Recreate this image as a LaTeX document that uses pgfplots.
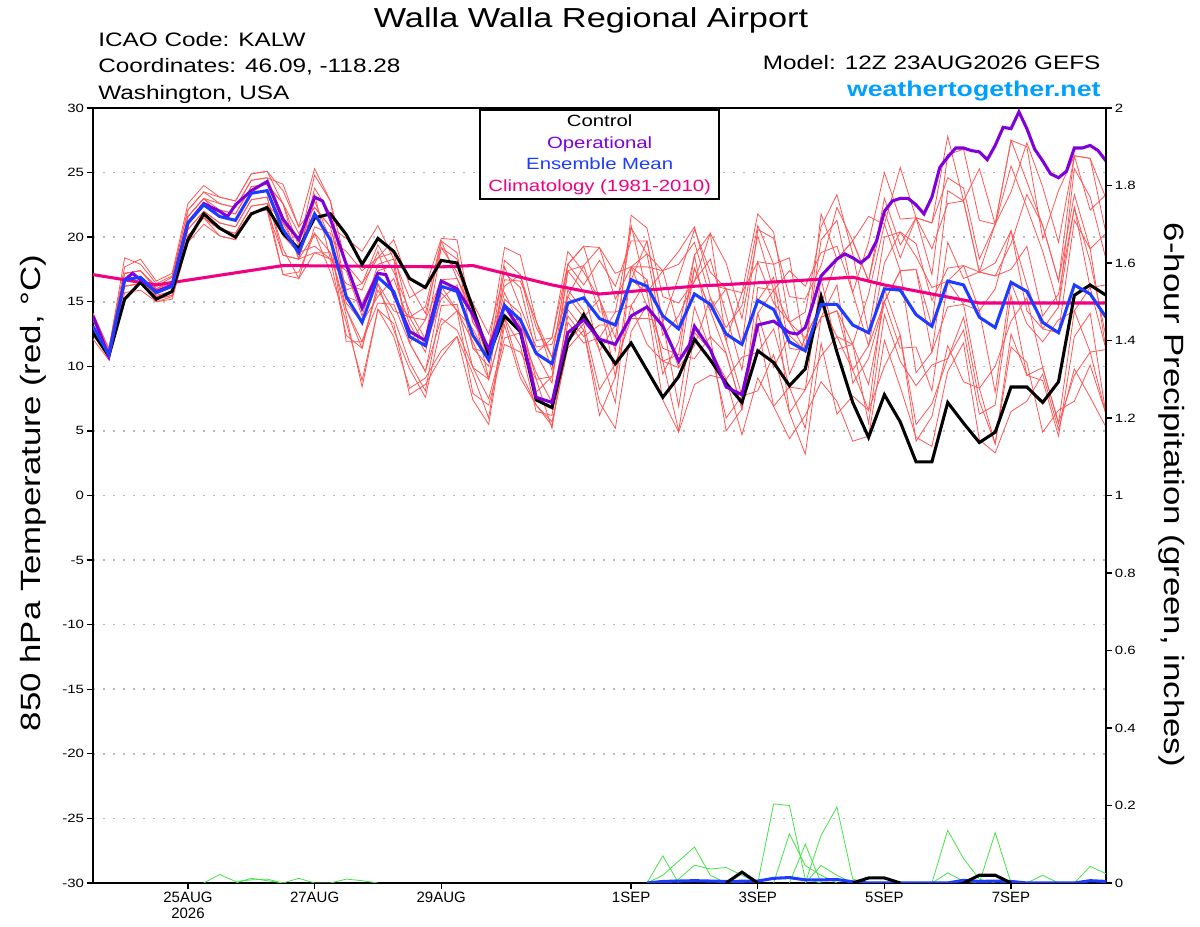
\documentclass[border=0pt]{standalone}
\usepackage{pgfplots}
\pgfplotsset{compat=1.18}
\usepackage{pgfplotstable}
\usepackage{fontspec}
\setmainfont{Liberation Sans}[FakeStretch=1.25]
\newfontfamily\plainsans{Liberation Sans}
\definecolor{memred}{RGB}{255,85,85}
\definecolor{oppurple}{RGB}{128,0,220}
\definecolor{meanblue}{RGB}{30,60,255}
\definecolor{climmag}{RGB}{240,0,130}
\definecolor{prgreen}{RGB}{70,225,70}
\definecolor{wtblue}{RGB}{0,160,255}
\definecolor{gridgray}{RGB}{185,185,185}

\pgfplotstableread{
i m1 m2 m3 m4 m5 m6 m7 m8 m9 m10 m11 m12 m13 m14
0 13.6 12.6 13.1 13.1 14.1 12.6 13.1 13.1 13.6 12.6 14.1 13.1 12.1 13.6
1 11.1 10.6 10.9 10.9 11.3 10.6 10.9 10.8 11.1 10.6 11.4 10.9 10.5 11.1
2 17.2 16.2 16.7 16.7 18.4 16.2 16.7 16.7 17.2 16.2 17.7 16.7 15.7 17.2
3 17.4 16.4 16.9 16.9 17.9 16.4 16.9 16.9 17.4 16.4 18.3 16.9 15.9 17.4
4 16.2 15.2 16.0 15.5 16.4 15.0 15.7 15.4 16.0 15.2 16.6 15.7 15.0 16.0
5 16.9 15.5 16.5 15.8 17.0 15.4 16.2 15.8 16.6 15.5 17.2 16.2 15.2 16.6
6 22.1 20.1 21.6 20.6 22.1 20.1 21.1 20.6 21.6 20.1 22.6 21.1 19.6 21.6
7 23.5 21.5 23.0 22.0 23.5 21.5 22.5 22.0 23.0 21.5 24.0 22.5 21.0 23.0
8 23.1 20.6 22.1 21.1 22.6 20.1 21.6 21.1 22.6 20.6 23.1 22.1 20.1 21.6
9 22.8 20.3 21.8 20.8 22.3 19.8 21.3 20.8 22.3 20.3 22.8 21.8 19.8 21.3
10 24.9 22.4 23.9 22.9 24.4 21.9 23.4 22.9 24.4 22.4 24.9 23.9 21.9 23.4
11 25.1 22.6 24.1 23.1 24.6 22.1 23.6 23.1 24.6 22.6 25.1 24.1 22.1 23.6
12 22.6 17.1 22.6 19.1 24.1 18.6 20.1 18.6 21.6 21.1 23.6 22.6 17.1 21.1
13 19.3 17.3 20.3 16.8 20.8 18.3 18.8 18.3 18.3 18.8 20.8 18.3 16.8 19.8
14 24.8 20.3 22.3 20.8 22.3 18.8 23.3 20.3 23.8 19.3 25.3 22.8 18.8 21.8
15 22.8 17.3 20.8 20.3 20.8 18.3 18.3 18.8 21.8 18.3 22.8 19.8 18.8 19.8
16 17.9 13.4 15.9 14.4 19.9 12.4 17.4 13.9 14.9 16.4 15.4 18.9 14.4 11.9
17 16.4 8.9 16.4 11.9 18.9 11.4 13.9 8.4 13.4 15.9 14.9 17.4 11.4 11.9
18 18.4 14.4 19.4 14.9 20.9 16.4 17.9 14.4 15.4 18.9 17.4 18.4 16.4 15.9
19 19.8 13.3 17.3 14.8 18.3 12.8 18.3 12.3 16.8 15.3 17.8 18.8 14.3 13.8
20 16.3 7.8 14.3 11.8 15.3 9.8 11.8 8.3 13.3 13.8 11.8 13.8 13.8 10.3
21 14.1 8.6 12.1 9.6 16.1 7.6 13.6 9.1 11.1 13.6 9.6 14.6 11.6 8.1
22 19.2 10.7 19.2 13.7 19.9 13.2 16.7 11.2 16.2 19.7 15.7 19.7 15.2 14.7
23 17.3 12.3 18.3 12.8 19.8 14.3 16.8 12.3 14.3 18.8 14.3 16.8 16.3 14.8
24 14.9 9.4 13.4 9.9 13.4 7.9 14.4 7.4 12.9 11.4 11.9 13.9 11.4 9.9
25 12.5 6.0 11.5 9.0 11.5 7.0 9.0 5.5 10.5 10.0 9.0 10.5 11.0 7.5
26 17.2 13.7 16.2 13.7 19.2 11.7 17.7 13.2 15.2 16.7 13.7 18.2 15.7 12.2
27 16.1 9.6 17.1 11.6 18.6 11.1 14.6 9.1 14.1 16.6 13.6 17.1 13.1 12.6
28 11.0 7.0 13.0 6.5 13.5 9.0 11.5 7.0 8.0 13.5 9.0 12.0 11.0 9.5
29 12.2 5.7 10.7 6.2 10.7 5.2 11.7 5.4 9.2 9.7 9.2 12.2 8.7 7.2
30 18.9 11.4 17.9 14.4 17.9 13.4 15.4 11.9 15.9 17.4 15.4 17.9 17.4 13.9
31 17.3 12.8 16.3 12.8 19.3 11.8 17.8 13.3 14.3 17.8 13.8 19.3 15.8 12.3
32 15.2 6.2 18.2 7.2 19.2 12.2 14.2 8.2 11.2 19.2 15.2 15.2 11.2 13.2
33 11.2 9.2 16.2 5.2 15.2 14.2 14.2 10.2 7.2 17.2 12.2 9.2 13.2 13.2
34 21.7 14.7 19.7 12.7 17.7 14.7 20.9 13.7 17.7 17.7 20.7 17.7 16.7 16.7
35 20.7 11.7 19.7 14.7 17.7 16.7 15.7 13.7 16.7 18.7 18.7 14.7 19.7 15.7
36 15.4 10.4 13.4 7.4 17.4 10.4 17.4 13.4 10.4 17.4 12.4 11.4 13.4 9.4
37 14.9 5.0 16.9 4.9 17.9 10.9 12.9 6.9 9.9 18.9 13.9 10.9 9.9 11.9
38 16.6 12.6 20.6 8.6 19.6 18.6 18.6 14.6 11.6 20.8 16.6 10.6 17.6 17.6
39 20.3 11.3 17.3 9.3 15.3 12.3 20.3 11.3 15.3 16.3 18.3 12.3 14.3 14.3
40 18.0 6.0 16.0 9.0 13.0 11.0 12.0 9.0 12.0 16.0 14.0 5.0 16.0 11.0
41 13.7 7.7 11.7 4.7 14.7 6.7 15.7 10.7 7.7 15.7 9.7 6.7 11.7 6.7
42 20.1 8.1 20.6 9.1 20.9 14.1 18.1 11.1 14.1 21.8 18.1 13.1 15.1 16.1
43 15.9 10.9 19.9 6.9 17.9 15.9 17.9 12.9 9.9 20.4 14.9 6.9 16.9 15.9
44 17.4 6.4 15.4 4.4 11.4 6.4 18.4 8.4 12.4 13.4 13.4 8.4 9.4 13.4
45 16.2 3.2 15.2 6.2 11.2 8.2 11.2 8.2 11.2 14.2 11.2 5.2 12.2 12.2
46 18.8 11.8 17.8 8.8 19.8 10.8 21.8 16.8 13.8 20.8 13.8 13.8 14.8 14.8
47 19.3 6.3 22.3 7.3 21.3 12.3 18.3 11.3 14.3 23.3 16.3 14.3 12.3 18.3
48 15.7 7.7 19.7 4.2 15.7 11.7 19.7 11.7 11.7 18.7 8.7 9.7 9.7 19.7
49 19.6 6.6 16.6 4.6 11.6 5.6 21.6 8.6 15.6 12.6 10.6 11.6 6.6 16.6
50 25.0 10.0 23.0 12.0 18.0 14.0 21.0 15.0 21.0 20.0 15.0 15.0 16.0 22.0
51 21.4 12.4 19.4 8.4 20.4 10.4 25.4 17.4 17.4 20.4 11.4 17.4 12.4 18.4
52 21.5 4.2 21.5 4.5 19.5 8.5 21.5 9.5 17.5 18.5 11.5 17.5 5.5 21.5
53 17.1 6.1 19.1 3.8 15.1 10.1 21.1 11.1 13.1 16.1 8.1 11.1 7.1 21.1
54 26.4 11.6 22.6 9.6 17.6 10.6 27.8 14.6 23.6 16.6 16.6 19.6 10.6 24.6
55 26.8 8.8 22.8 11.8 17.8 12.8 22.8 14.8 22.8 17.8 14.8 16.8 13.8 23.8
56 21.3 8.3 17.3 4.3 17.3 6.3 25.3 14.3 17.3 14.3 8.3 17.3 7.3 18.3
57 21.0 4.0 21.0 3.3 18.0 7.0 21.0 8.0 17.0 16.0 10.0 17.0 4.0 21.0
58 23.5 11.5 25.5 6.5 20.5 15.5 27.5 16.5 19.5 20.5 13.5 17.5 12.5 27.5
59 27.3 10.3 22.3 7.3 16.3 9.3 27.0 13.3 23.3 14.3 15.3 19.3 9.3 24.3
60 23.9 4.9 18.9 9.4 12.9 8.9 19.9 11.9 20.9 12.9 9.9 13.9 9.9 20.9
61 19.6 6.6 14.6 5.1 14.6 4.6 23.6 13.6 16.6 12.6 5.6 15.6 5.6 16.6
62 26.3 7.3 25.3 9.8 22.3 12.3 26.3 14.3 23.3 21.3 14.3 22.3 9.3 26.3
63 22.1 10.1 23.1 7.6 18.1 14.1 26.1 16.1 19.1 19.1 11.1 16.1 11.1 26.1
64 23.3 6.3 18.3 5.3 12.3 6.3 23.0 11.3 20.3 11.3 11.3 16.3 6.3 20.3
}\members

\pgfplotstableread{
i ctl mean
0 12.6 13.1
1 10.8 10.9
2 15.2 16.7
3 16.5 16.9
4 15.2 15.7
5 15.8 16.2
6 19.8 21.1
7 21.8 22.5
8 20.7 21.6
9 20.0 21.3
10 21.8 23.4
11 22.3 23.6
12 20.3 20.6
13 19.1 18.8
14 21.5 21.8
15 21.8 19.8
16 20.2 15.4
17 17.9 13.4
18 19.9 16.9
19 18.9 15.8
20 16.8 12.3
21 16.1 11.6
22 18.2 16.2
23 18.0 15.8
24 14.5 12.4
25 10.9 10.5
26 13.9 14.7
27 12.7 13.6
28 7.4 11.0
29 6.8 10.2
30 11.9 14.9
31 14.0 15.3
32 12.0 13.7
33 10.2 13.2
34 11.8 16.7
35 9.7 16.2
36 7.6 13.9
37 9.2 12.9
38 12.1 15.6
39 10.5 14.8
40 8.7 12.5
41 7.2 11.7
42 11.2 15.1
43 10.3 14.4
44 8.5 11.9
45 9.8 11.2
46 15.4 14.8
47 11.1 14.8
48 7.2 13.2
49 4.5 12.6
50 7.8 16.0
51 5.7 15.9
52 2.6 14.0
53 2.6 13.1
54 7.2 16.6
55 5.6 16.3
56 4.1 13.8
57 4.9 13.0
58 8.4 16.5
59 8.4 15.8
60 7.2 13.4
61 8.8 12.6
62 15.5 16.3
63 16.3 15.6
64 15.5 13.8
}\main

\pgfplotstableread{
i op
0 13.9
1 10.8
2 16.7
2.5 17.2
3 16.7
4 15.8
5 16.3
6 21.1
7 22.6
8 22.0
8.5 21.6
9 22.5
10 23.6
11 24.3
12 21.4
13 19.8
14 23.1
14.5 22.8
15 21.4
16 17.9
17 14.5
18 17.2
18.5 17.1
19 15.6
20 12.7
21 12.0
22 16.6
23 16.0
24 14.0
25 11.3
26 14.7
27 12.8
28 7.6
29 7.2
30 12.6
31 13.6
32 12.1
33 11.7
34 13.9
35 14.6
36 13.1
37 10.4
37.7 11.7
38 13.1
39 11.3
40 8.4
41 7.8
42 13.2
43 13.5
44 12.6
44.5 12.5
45 13.0
45.5 14.9
46 17.0
47 18.3
47.5 18.7
48 18.4
48.5 18.0
49 18.5
49.5 19.7
50 22.0
50.5 22.8
51 23.0
51.5 23.0
52 22.5
52.5 21.8
53 23.1
53.5 25.4
54 26.2
54.5 26.9
55 26.9
55.5 26.7
56 26.6
56.5 26.0
57 27.1
57.5 28.5
58 28.4
58.5 29.7
59 28.4
59.5 26.8
60 25.9
60.5 24.9
61 24.6
61.5 25.1
62 26.9
62.5 26.9
63 27.1
63.5 26.7
64 25.9
}\oper

\begin{document}
\begin{tikzpicture}
\path[use as bounding box] (-69.75pt,-33pt) rectangle (830.25pt,662.25pt);

\begin{axis}[
  scale only axis, width=759.75pt, height=581.25pt,
  xmin=0, xmax=64, ymin=-30, ymax=30,
  xtick={6,14,22,34,42,50,58},
  xticklabels={25AUG\\2026,27AUG,29AUG,1SEP,3SEP,5SEP,7SEP},
  xticklabel style={align=center, font=\plainsans\fontsize{11.25}{12}\selectfont, inner sep=2pt},
  ytick={-30,-25,...,30},
  yticklabels={-30,-25,-20,-15,-10,-5,0,5,10,15,20,25,30},
  yticklabel style={font=\fontsize{9}{10}\selectfont, inner sep=2pt},
  xtick pos=bottom, ytick pos=left,
  tick align=outside, major tick length=4.5pt,
  tick style={black, line width=1pt},
  ymajorgrids, grid style={gridgray, line width=1.2pt, dash pattern=on 1.2pt off 6.3pt},
  axis line style={line width=2pt},
]
\pgfplotsinvokeforeach{1,...,14}{
  \addplot[memred, line width=0.6pt] table[x=i, y=m#1] {\members};
}
\addplot[climmag, line width=2.3pt] coordinates {(0,17.1)(4,16.3)(12,17.8)(22,17.7)(24,17.8)(29,16.3)(32,15.6)(34,15.8)(38,16.2)(44,16.6)(48,16.9)(50,16.3)(53,15.6)(56,14.9)(64,14.9)};
\addplot[black, line width=2.3pt] table[x=i, y=ctl] {\main};
\addplot[oppurple, line width=2.3pt] table[x=i, y=op] {\oper};
\addplot[meanblue, line width=2.3pt] table[x=i, y=mean] {\main};
\end{axis}

\begin{axis}[
  scale only axis, width=759.75pt, height=581.25pt,
  xmin=0, xmax=64, ymin=0, ymax=2,
  axis x line=none, axis y line*=right,
  ytick={0,0.2,...,2},
  yticklabels={0,0.2,0.4,0.6,0.8,1,1.2,1.4,1.6,1.8,2},
  yticklabel style={font=\fontsize{9}{10}\selectfont, inner sep=2pt},
  tick align=outside, major tick length=4.5pt,
  tick style={black, line width=1pt},
  axis line style={-, line width=2pt},
]
\addplot[prgreen, line width=0.6pt] coordinates {(7,0)(8,0.022)(9,0.004)(10,0.008)(11,0.01)(12,0)};
\addplot[prgreen, line width=0.6pt] coordinates {(9,0)(10,0.012)(11,0.006)(12,0)(13,0.012)(14,0)(15,0)(16,0.01)(17,0.006)(18,0)};
\addplot[prgreen, line width=0.6pt] coordinates {(35,0)(36,0.07)(37,0)};
\addplot[prgreen, line width=0.6pt] coordinates {(35,0)(36,0.02)(38,0.093)(39,0.02)(40,0)};
\addplot[prgreen, line width=0.6pt] coordinates {(36,0)(37,0.01)(38,0.046)(39,0.036)(40,0.04)(41,0.02)(42,0)};
\addplot[prgreen, line width=0.6pt] coordinates {(42,0)(43,0.204)(44,0.2)(45,0.01)(46,0)};
\addplot[prgreen, line width=0.6pt] coordinates {(43,0)(44,0.127)(45,0.045)(46,0.02)(47,0)};
\addplot[prgreen, line width=0.6pt] coordinates {(44,0)(45,0.10)(46,0)};
\addplot[prgreen, line width=0.6pt] coordinates {(45,0)(46,0.123)(47,0.196)(48,0.01)(49,0)};
\addplot[prgreen, line width=0.6pt] coordinates {(45,0)(46,0.045)(47,0.02)(48,0)};
\addplot[prgreen, line width=0.6pt] coordinates {(53,0)(54,0.136)(55,0.063)(56,0.01)(57,0)};
\addplot[prgreen, line width=0.6pt] coordinates {(53,0)(54,0.026)(55,0.005)(56,0)};
\addplot[prgreen, line width=0.6pt] coordinates {(56,0)(57,0.13)(58,0)};
\addplot[prgreen, line width=0.6pt] coordinates {(59,0)(60,0.02)(61,0)};
\addplot[prgreen, line width=0.6pt] coordinates {(62,0)(63,0.043)(64,0.024)};
\addplot[meanblue, line width=2.3pt] coordinates {(35,0)(36,0.004)(38,0.006)(40,0.004)(42,0.005)(43,0.012)(44,0.014)(45,0.008)(46,0.008)(47,0.009)(48,0.003)(49,0)(54,0)(55,0.007)(56,0.004)(57,0.005)(58,0.004)(59,0)(62,0)(63,0.006)(64,0.004)};
\addplot[black, line width=2.3pt] coordinates {(40,0)(41,0.028)(42,0)};
\addplot[black, line width=2.3pt] coordinates {(48,0)(49,0.013)(50,0.013)(51,0)};
\addplot[black, line width=2.3pt] coordinates {(55,0)(56,0.02)(57,0.02)(58,0)};
\end{axis}

% titles and header texts
\node[anchor=base, inner sep=0pt, font=\fontsize{20.6}{24}\selectfont] at (373.5pt,641.8pt) {Walla Walla Regional Airport};
\node[anchor=base west, inner sep=0pt, font=\fontsize{14.6}{17}\selectfont] at (3.75pt,627.3pt) {ICAO Code: KALW};
\node[anchor=base west, inner sep=0pt, font=\fontsize{14.6}{17}\selectfont] at (3.75pt,607.8pt) {Coordinates: 46.09, -118.28};
\node[anchor=base west, inner sep=0pt, font=\fontsize{14.6}{17}\selectfont] at (3.75pt,587.8pt) {Washington, USA};
\node[anchor=base east, inner sep=0pt, font=\fontsize{14.6}{17}\selectfont] at (755.8pt,609.75pt) {Model: 12Z 23AUG2026 GEFS};
\node[anchor=base east, inner sep=0pt, text=wtblue, font=\bfseries\fontsize{16}{19}\selectfont] at (755.8pt,589.7pt) {weathertogether.net};

% axis titles
\node[rotate=90, inner sep=0pt, font=\fontsize{20.9}{24}\selectfont] at (-45pt,292.5pt) {850 hPa Temperature (red, °C)};
\node[rotate=-90, inner sep=0pt, font=\fontsize{20.9}{24}\selectfont] at (809.25pt,291pt) {6-hour Precipitation (green, inches)};

% legend box
\draw[black, line width=1pt, fill=white] (290.25pt,513pt) rectangle (469.5pt,579.75pt);
\node[anchor=base, inner sep=0pt, text=black, font=\fontsize{12.2}{14}\selectfont] at (380pt,567.3pt) {Control};
\node[anchor=base, inner sep=0pt, text=oppurple, font=\fontsize{12.2}{14}\selectfont] at (380pt,551pt) {Operational};
\node[anchor=base, inner sep=0pt, text=meanblue, font=\fontsize{12.2}{14}\selectfont] at (380pt,534.75pt) {Ensemble Mean};
\node[anchor=base, inner sep=0pt, text=climmag, font=\fontsize{12.2}{14}\selectfont] at (380pt,518.5pt) {Climatology (1981-2010)};
\end{tikzpicture}
\end{document}
